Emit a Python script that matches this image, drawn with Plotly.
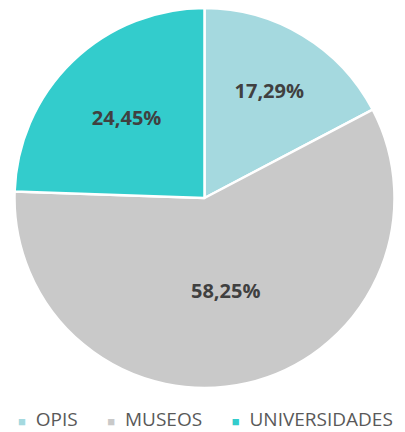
import plotly.graph_objects as go

labels = ["OPIS", "MUSEOS", "UNIVERSIDADES"]
values = [17.29, 58.25, 24.45]
text_labels = ["17,29%", "58,25%", "24,45%"]
colors = ["#A5D9DF", "#C9C9C9", "#33CCCC"]

W, H = 405, 432
NB = "\u00a0"

fig = go.Figure(go.Pie(
    labels=labels,
    values=values,
    text=text_labels,
    textinfo="text",
    textposition="inside",
    insidetextorientation="horizontal",
    sort=False,
    direction="clockwise",
    rotation=0,
    domain=dict(x=[6 / W, 387 / W], y=[0, 1]),
    marker=dict(colors=colors, line=dict(color="white", width=2.5)),
    textfont=dict(family="Open Sans", size=20, color="#404040", weight="bold"),
    hoverinfo="skip",
    showlegend=False,
))

# legend built as a single line of real text (square marker + label)
parts = []
for lab, col in zip(labels, colors):
    parts.append(f'<span style="color:{col};font-size:13px">■</span>{NB*2}{lab}')
legend_text = (NB * 6).join(parts)

fig.add_annotation(
    text=legend_text, xref="paper", yref="paper",
    x=0.487, xanchor="center", y=-0.0816, yanchor="middle",
    showarrow=False,
    font=dict(family="Open Sans", size=19, color="#595959"),
)

fig.update_layout(
    width=W, height=H,
    margin=dict(l=0, r=0, t=0, b=52),
    paper_bgcolor="white",
    plot_bgcolor="white",
    showlegend=False,
)

fig.write_html("out.html")
